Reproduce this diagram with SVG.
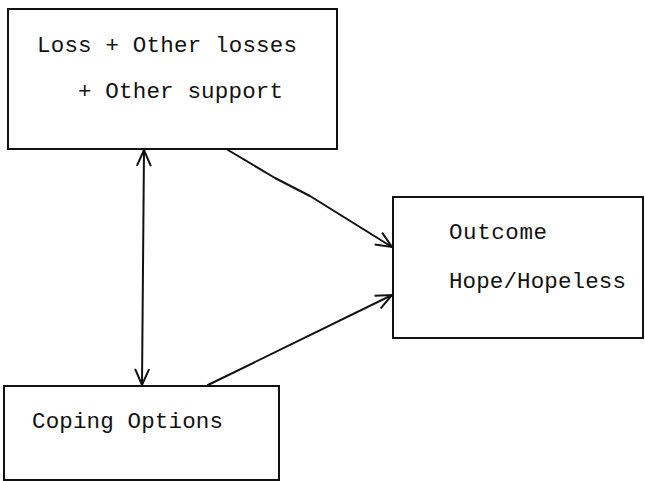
<svg xmlns="http://www.w3.org/2000/svg" width="645" height="481" viewBox="0 0 645 481">
<defs>
<style>
.box{fill:#fff;stroke:#111;stroke-width:2}
.t{font-family:"Liberation Mono","Courier New",monospace;font-size:22.5px;fill:#111}
.c{fill:none;stroke:#111;stroke-width:2;stroke-linecap:round;stroke-linejoin:round}
</style>
<marker id="a" viewBox="0 0 20 20" refX="18" refY="10" markerWidth="20" markerHeight="20" markerUnits="userSpaceOnUse" orient="auto-start-reverse">
<path d="M2,3 L18,10 L2,17" fill="none" stroke="#111" stroke-width="2"/>
</marker>
</defs>
<rect width="645" height="481" fill="#fff"/>
<g id="loss">
<rect class="box" x="8" y="9" width="329" height="140"/>
<text class="t" x="37" y="52" textLength="260">Loss + Other losses</text>
<text class="t" x="78" y="98" textLength="205">+ Other support</text>
</g>
<g id="outcome">
<rect class="box" x="393" y="197" width="250" height="141"/>
<text class="t" x="449" y="239" textLength="98">Outcome</text>
<text class="t" x="449" y="288" textLength="177">Hope/Hopeless</text>
</g>
<g id="coping">
<rect class="box" x="4" y="386" width="275" height="94"/>
<text class="t" x="32" y="428" textLength="191">Coping Options</text>
</g>
<g id="connectors">
<path class="c" d="M144,150 L142,385" marker-start="url(#a)" marker-end="url(#a)"/>
<path class="c" d="M228,150 L275,178 L310,196 L392,247" marker-end="url(#a)"/>
<path class="c" d="M208,385 L392,295" marker-end="url(#a)"/>
</g>
</svg>
